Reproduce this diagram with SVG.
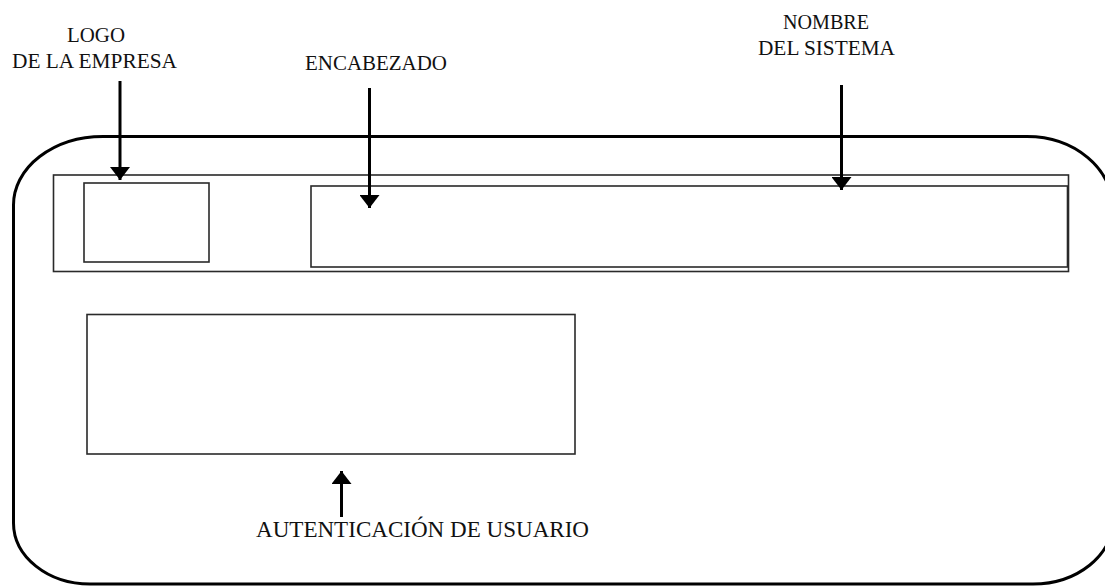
<svg xmlns="http://www.w3.org/2000/svg" width="1105" height="586" viewBox="0 0 1105 586">
  <style>
    .lbl { font-family: "Liberation Serif", "Times New Roman", serif; font-size: 22px; fill: #111; text-anchor: middle; }
    .box { fill: none; stroke: #2a2a2a; stroke-width: 1.6; }
    .frame { fill: none; stroke: #000; stroke-width: 3; }
    .arrow { stroke: #000; stroke-width: 3; fill: none; marker-end: url(#head); }
  </style>
  <defs>
    <marker id="head" markerUnits="userSpaceOnUse" viewBox="0 0 13 20" refX="13" refY="10" markerWidth="13" markerHeight="20" orient="auto">
      <path d="M0,0 L13,10 L0,20 Z" fill="#000"/>
    </marker>
  </defs>
  <rect width="1105" height="586" fill="#fff"/>
  <g id="pantalla">
    <path class="frame" d="M 103 136.5 H 1027 A 86 72 0 0 1 1113 208.5 V 520 A 80 64 0 0 1 1033 584 H 90 A 76.5 61 0 0 1 13.5 523 V 205 A 89.5 68.5 0 0 1 103 136.5 Z"/>
  </g>
  <g id="encabezado-marco">
    <rect class="box" x="53.5" y="175" width="1015" height="96.5"/>
  </g>
  <g id="logo">
    <rect class="box" x="84" y="183" width="125" height="79" stroke-width="2"/>
  </g>
  <g id="encabezado">
    <rect class="box" x="311" y="186" width="756.5" height="81" stroke-width="2"/>
  </g>
  <g id="autenticacion">
    <rect class="box" x="87" y="314.5" width="488" height="139.5" stroke-width="2"/>
  </g>
  <g id="etiquetas">
    <text class="lbl" x="96" y="42" textLength="58" lengthAdjust="spacingAndGlyphs">LOGO</text>
    <text class="lbl" x="94.5" y="68" textLength="165" lengthAdjust="spacingAndGlyphs">DE LA EMPRESA</text>
    <text class="lbl" x="376" y="70" textLength="142" lengthAdjust="spacingAndGlyphs">ENCABEZADO</text>
    <text class="lbl" x="826" y="29" textLength="86" lengthAdjust="spacingAndGlyphs">NOMBRE</text>
    <text class="lbl" x="826.5" y="55" textLength="137" lengthAdjust="spacingAndGlyphs">DEL SISTEMA</text>
    <text class="lbl" x="422.5" y="537" style="font-size:23px" textLength="333" lengthAdjust="spacingAndGlyphs">AUTENTICACIÓN DE USUARIO</text>
  </g>
  <g id="conectores">
    <line class="arrow" x1="120" y1="81" x2="120" y2="180"/>
    <line class="arrow" x1="369.5" y1="88" x2="369.5" y2="208"/>
    <line class="arrow" x1="841.5" y1="85" x2="841.5" y2="190"/>
    <line class="arrow" x1="341.5" y1="517" x2="341.5" y2="471"/>
  </g>
</svg>
